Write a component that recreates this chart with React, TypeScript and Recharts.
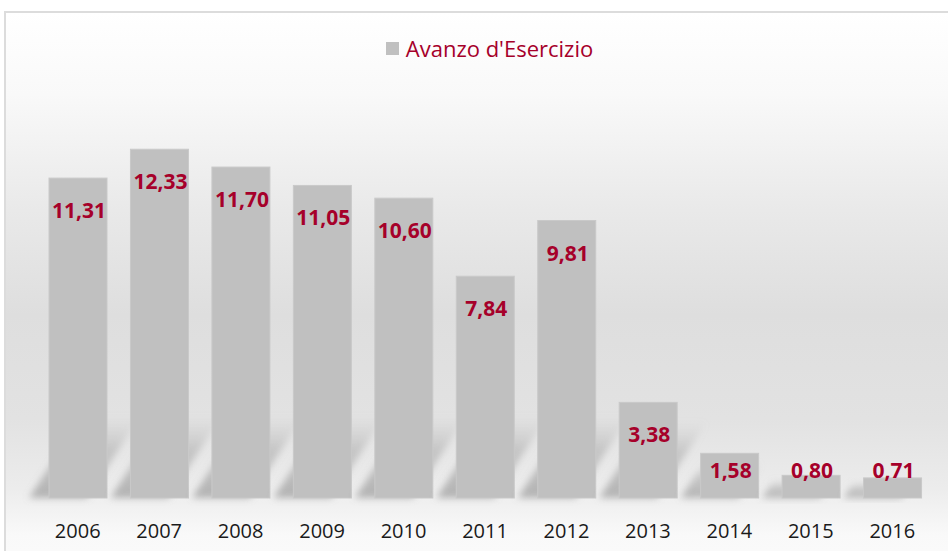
import { Bar, BarChart, LabelList, Legend, XAxis, YAxis } from "recharts";

const years = ["2006", "2007", "2008", "2009", "2010", "2011", "2012", "2013", "2014", "2015", "2016"];
const avanzo = [11.31, 12.33, 11.7, 11.05, 10.6, 7.84, 9.81, 3.38, 1.58, 0.8, 0.71];

const data = years.map((year, i) => ({ year, avanzo: avanzo[i] }));

const RED = "#a6002a";
const BAR = "#c0c0c0";
const FONT = "'Open Sans', sans-serif";

const fmt = (v: number) => v.toFixed(2).replace(".", ",");

// bar with a soft perspective shadow cast behind it, up and to the right
function ShadowBar(props: any) {
  const { x, y, width, height } = props;
  if (!height || height <= 0) return null;
  const base = y + height;
  const h = Math.min(height * 0.8, 82);
  const sh = h * 0.65;
  const off = -20;
  const pts = [
    [x + off, base],
    [x + width + off, base],
    [x + width + off + sh, base - h],
    [x + off + sh, base - h],
  ]
    .map((p) => p.join(","))
    .join(" ");
  return (
    <g>
      <polygon points={pts} fill="url(#shadowGrad)" filter="url(#shadowBlur)" />
      <rect x={x} y={y} width={width} height={height} fill={BAR} stroke="#c9c9c9" strokeWidth={1} />
    </g>
  );
}

function ValueLabel(props: any) {
  const { x, y, width, height, value } = props;
  const cy = Math.min(y + 32, y + height - 28);
  return (
    <text
      x={x + width / 2 + 1}
      y={cy}
      textAnchor="middle"
      dominantBaseline="central"
      fill={RED}
      fontFamily={FONT}
      fontWeight={700}
      fontSize={21}
    >
      {fmt(Number(value))}
    </text>
  );
}

function YearTick(props: any) {
  const { x, y, payload } = props;
  return (
    <text x={x} y={y + 40} textAnchor="middle" fill="#1a1a1a" fontFamily={FONT} fontSize={20}>
      {payload.value}
    </text>
  );
}

function LegendContent() {
  return (
    <div
      style={{
        display: "flex",
        alignItems: "center",
        justifyContent: "center",
        gap: 7,
        fontFamily: FONT,
        fontSize: 22,
        color: RED,
        paddingLeft: 31,
        height: 26,
      }}
    >
      <span style={{ width: 13, height: 13, background: BAR, display: "inline-block" }} />
      <span>Avanzo d'Esercizio</span>
    </div>
  );
}

export default function App() {
  return (
    <div
      style={{
        position: "absolute",
        left: 0,
        top: 0,
        width: 948,
        height: 551,
        overflow: "hidden",
        background: "#ffffff",
      }}
    >
      <div
        style={{
          position: "absolute",
          left: 4,
          top: 11,
          width: 980,
          height: 580,
          border: "2px solid #dcdcdc",
          background:
            "linear-gradient(to bottom, #ffffff 0%, #f9f9f9 14%, #e9e9e9 34%, #dedede 52%, #e2e2e2 70%, #ececec 82%, #f9f9f9 90%, #fdfdfd 100%)",
        }}
      />
      <div style={{ position: "absolute", left: 0, top: 0 }}>
        <BarChart
          width={948}
          height={551}
          data={data}
          margin={{ top: 76, right: 15, bottom: 0, left: 37 }}
        >
          <defs>
            <linearGradient id="shadowGrad" x1="0" y1="1" x2="0" y2="0">
              <stop offset="0%" stopColor="#8a8a8a" stopOpacity={0.6} />
              <stop offset="60%" stopColor="#9a9a9a" stopOpacity={0.42} />
              <stop offset="100%" stopColor="#b0b0b0" stopOpacity={0} />
            </linearGradient>
            <filter id="shadowBlur" x="-30%" y="-30%" width="160%" height="160%">
              <feGaussianBlur stdDeviation={3.5} />
            </filter>
          </defs>
          <XAxis
            dataKey="year"
            axisLine={false}
            tickLine={false}
            tickSize={0}
            tickMargin={0}
            height={53}
            interval={0}
            tick={<YearTick />}
          />
          <YAxis hide domain={[0, 14]} />
          <Legend
            verticalAlign="top"
            align="center"
            content={<LegendContent />}
            wrapperStyle={{ top: 35, left: 0, width: 948 }}
          />
          <Bar dataKey="avanzo" barSize={58} shape={<ShadowBar />} isAnimationActive={false}>
            <LabelList dataKey="avanzo" content={<ValueLabel />} />
          </Bar>
        </BarChart>
      </div>
    </div>
  );
}
